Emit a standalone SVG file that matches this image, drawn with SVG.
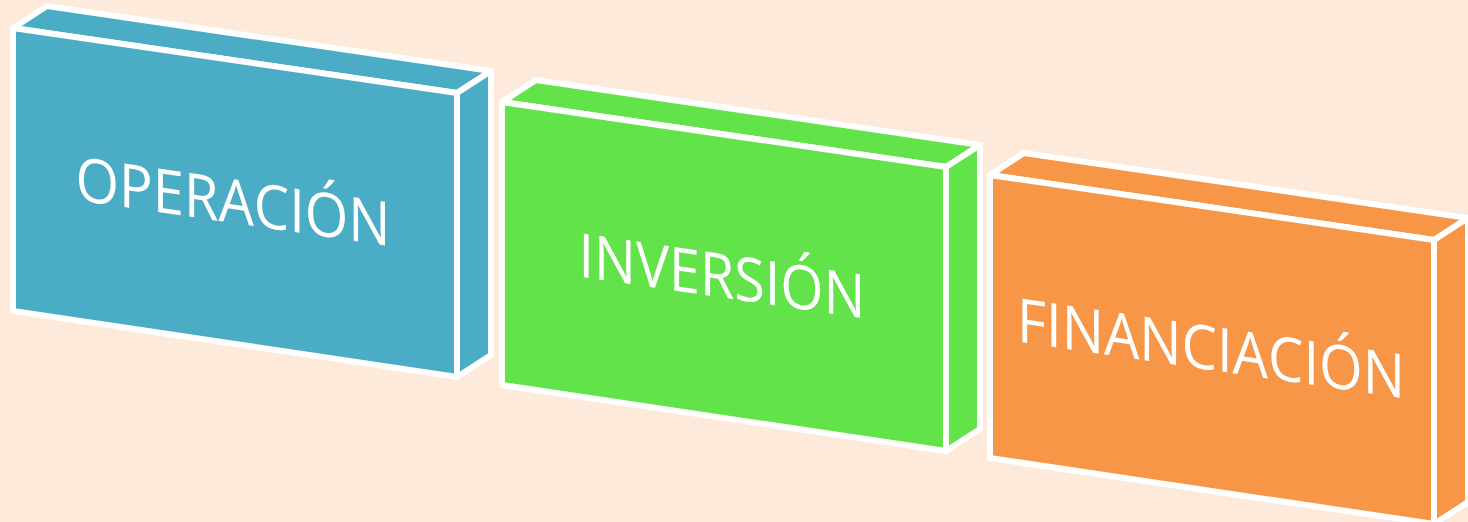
<svg xmlns="http://www.w3.org/2000/svg" width="1468" height="522" viewBox="0 0 1468 522">
  <style>
    .face { stroke: #FFFFFF; stroke-width: 6; stroke-linejoin: round; }
    .blue { fill: #4BACC6; }
    .green { fill: #62E34A; }
    .orange { fill: #F79646; }
    .label { fill: #FFFFFF; font-family: "Open Sans", Lato, "Liberation Sans", sans-serif; font-size: 61px; text-anchor: middle; }
  </style>
  <defs>
    <g id="box">
      <polygon points="13,28 47,6 491,71 457,93"/>
      <polygon points="457,93 491,71 491,355 457,377"/>
      <polygon points="13,28 457,93 457,377 13,311"/>
    </g>
  </defs>
  <rect x="0" y="0" width="1468" height="522" fill="#FDEADA"/>
  <g id="connectors"></g>
  <g id="operacion" class="face blue">
    <use href="#box"/>
    <text class="label" transform="translate(233,223) skewY(8.33)" x="0" y="0" textLength="315" lengthAdjust="spacingAndGlyphs" stroke="none">OPERACIÓN</text>
  </g>
  <g id="inversion" class="face green" transform="translate(489,74)">
    <use href="#box"/>
    <text class="label" transform="translate(233,223.5) skewY(8.33)" x="0" y="0" textLength="287" lengthAdjust="spacingAndGlyphs" stroke="none">INVERSIÓN</text>
  </g>
  <g id="financiacion" class="face orange" transform="translate(977,147)">
    <use href="#box"/>
    <text class="label" transform="translate(234,223) skewY(8.33)" x="0" y="0" textLength="388" lengthAdjust="spacingAndGlyphs" stroke="none">FINANCIACIÓN</text>
  </g>
</svg>
